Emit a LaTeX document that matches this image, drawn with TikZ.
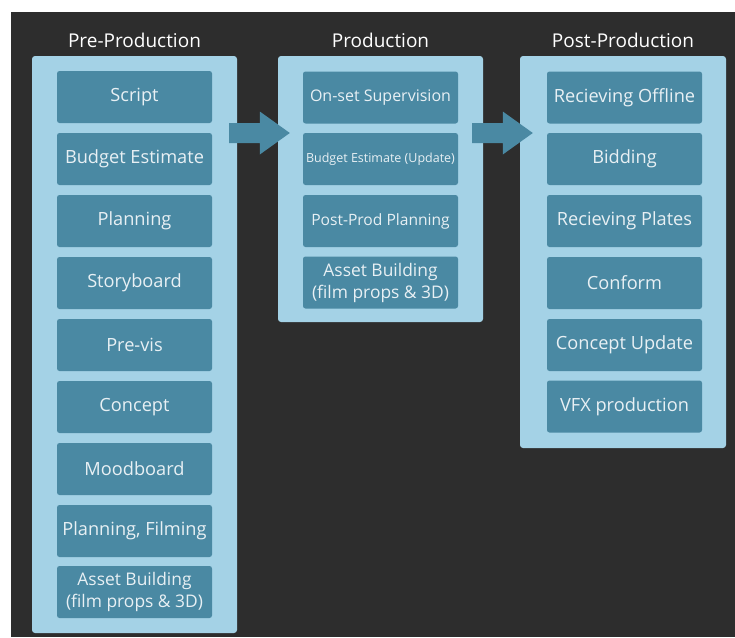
\documentclass[tikz,border=0pt]{standalone}
\usepackage{fontspec}
\setmainfont{Open Sans}
\usetikzlibrary{calc}
\definecolor{bgdark}{RGB}{45,45,45}
\definecolor{panelblue}{RGB}{164,210,230}
\definecolor{boxblue}{RGB}{74,137,163}
\definecolor{txtwhite}{RGB}{232,240,244}
\tikzset{
  panel/.style={fill=panelblue, rounded corners=3pt, inner sep=0pt},
  stepbox/.style={fill=boxblue, rounded corners=2.5pt, minimum width=155pt, minimum height=52pt, inner sep=0pt, text=txtwhite, font=\fontsize{18.2}{22}\selectfont, align=center},
  twoline/.style={font=\fontsize{17.4}{22}\selectfont},
  title/.style={text=white, font=\fontsize{19}{24}\selectfont, inner sep=0pt},
  blockarrow/.style={fill=boxblue}
}
\begin{document}
\begin{tikzpicture}[x=1pt,y=-1pt]
\useasboundingbox (0,0) rectangle (735,637);
\fill[white] (0,0) rectangle (735,637);
\fill[bgdark] (11,12) rectangle (735,637);
% panels
\node[panel, minimum width=205pt, minimum height=577pt] (prepanel) at (134.5,344.5) {};
\node[panel, minimum width=205pt, minimum height=266pt] (prodpanel) at (380.5,189) {};
\node[panel, minimum width=206pt, minimum height=392pt] (postpanel) at (623,252) {};
% titles
\node[title] (pretitle) at (134.5,40) {Pre-Production};
\node[title] (prodtitle) at (380.5,40) {Production};
\node[title] (posttitle) at (623,40) {Post-Production};
% pre-production steps
\node[stepbox] (p1) at (134.5,97) {Script};
\node[stepbox] (p2) at (134.5,159) {Budget Estimate};
\node[stepbox] (p3) at (134.5,221) {Planning};
\node[stepbox] (p4) at (134.5,283) {Storyboard};
\node[stepbox] (p5) at (134.5,345) {Pre-vis};
\node[stepbox] (p6) at (134.5,407) {Concept};
\node[stepbox] (p7) at (134.5,469) {Moodboard};
\node[stepbox] (p8) at (134.5,531) {Planning, Filming};
\node[stepbox, twoline] (p9) at (134.5,592) {Asset Building\\(film props \& 3D)};
% production steps
\node[stepbox, font=\fontsize{16}{20}\selectfont] (d1) at (380.5,97.5) {On-set Supervision};
\node[stepbox, font=\fontsize{12.5}{16}\selectfont] (d2) at (380.5,159) {Budget Estimate (Update)};
\node[stepbox, font=\fontsize{15.6}{20}\selectfont] (d3) at (380.5,221) {Post-Prod Planning};
\node[stepbox, twoline] (d4) at (380.5,282.5) {Asset Building\\(film props \& 3D)};
% post-production steps
\node[stepbox] (q1) at (624.5,97.5) {Recieving Offline};
\node[stepbox] (q2) at (624.5,159) {Bidding};
\node[stepbox] (q3) at (624.5,221) {Recieving Plates};
\node[stepbox] (q4) at (624.5,283) {Conform};
\node[stepbox] (q5) at (624.5,345) {Concept Update};
\node[stepbox] (q6) at (624.5,406.5) {VFX production};
% block arrows
\coordinate (a1s) at ([xshift=-8pt]prepanel.east |- 0,133);
\coordinate (a1e) at ([xshift=12pt]prodpanel.west |- 0,133);
\coordinate (a2s) at ([xshift=-11pt]prodpanel.east |- 0,133);
\coordinate (a2e) at ([xshift=13pt]postpanel.west |- 0,133);
\fill[blockarrow] ($(a1s)+(0,-10)$) -- ($(a1e)+(-30,-10)$) -- ($(a1e)+(-30,-21.5)$) -- (a1e) -- ($(a1e)+(-30,21.5)$) -- ($(a1e)+(-30,10)$) -- ($(a1s)+(0,10)$) -- cycle;
\fill[blockarrow] ($(a2s)+(0,-10)$) -- ($(a2e)+(-30,-10)$) -- ($(a2e)+(-30,-21.5)$) -- (a2e) -- ($(a2e)+(-30,21.5)$) -- ($(a2e)+(-30,10)$) -- ($(a2s)+(0,10)$) -- cycle;
\end{tikzpicture}
\end{document}
